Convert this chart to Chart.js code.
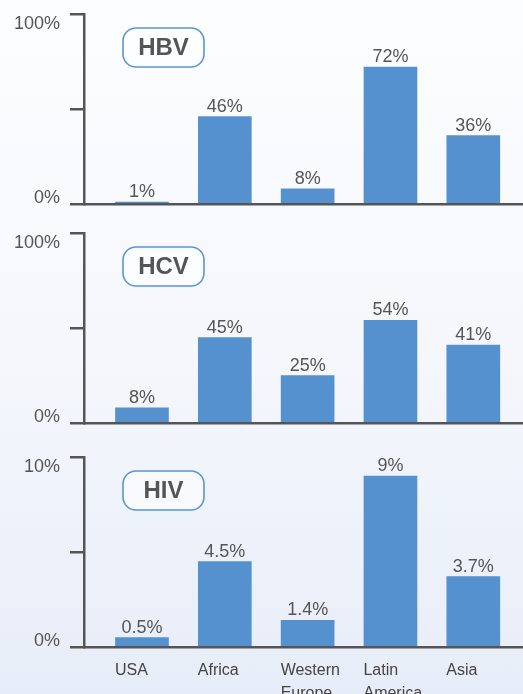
<!DOCTYPE html>
<html>
<head>
<meta charset="utf-8">
<script src="https://cdn.jsdelivr.net/npm/chart.js@4/dist/chart.umd.min.js"></script>
<style>
  html, body { margin: 0; padding: 0; }
  body {
    width: 523px; height: 694px; overflow: hidden; position: relative;
    background: linear-gradient(to bottom, #fcfdfe 0%, #f5f7fc 50%, #e7edf8 100%);
  }
  .panel { position: absolute; left: 0; width: 523px; }
</style>
</head>
<body>
<div class="panel" style="top:0;height:220px"><canvas id="hbv"></canvas></div>
<div class="panel" style="top:220px;height:220px"><canvas id="hcv"></canvas></div>
<div class="panel" style="top:440px;height:254px"><canvas id="hiv"></canvas></div>
<script>
/* data */
const regions = ["USA", "Africa", ["Western", "Europe"], ["Latin", "America"], "Asia"];
const hbvValues = [1, 46, 8, 72, 36];
const hcvValues = [8, 45, 25, 54, 41];
const hivValues = [0.5, 4.5, 1.4, 9, 3.7];
const hbvLabels = ["1%", "46%", "8%", "72%", "36%"];
const hcvLabels = ["8%", "45%", "25%", "54%", "41%"];
const hivLabels = ["0.5%", "4.5%", "1.4%", "9%", "3.7%"];

const axisColor = "#555";
const barColor = "#5591ce";
const fontFamily = "'Liberation Sans', Arial, sans-serif";

/* numbers above bars */
const valueLabels = {
    id: "valueLabels",
    afterDatasetsDraw(chart, args, opts) {
        const ctx = chart.ctx;
        const meta = chart.getDatasetMeta(0);
        ctx.save();
        ctx.font = "18px " + fontFamily;
        ctx.fillStyle = axisColor;
        ctx.textAlign = "center";
        ctx.textBaseline = "alphabetic";
        meta.data.forEach((bar, i) => {
            ctx.fillText(opts.labels[i], bar.x, bar.y - 5);
        });
        ctx.restore();
    }
};

/* rounded box with the virus name */
const nameBox = {
    id: "nameBox",
    afterDraw(chart, args, opts) {
        const ctx = chart.ctx;
        const x = chart.chartArea.left + 39, y = chart.chartArea.top + 14;
        const w = 81, h = 39, r = 13;
        ctx.save();
        ctx.beginPath();
        ctx.roundRect(x, y, w, h, r);
        ctx.fillStyle = "rgba(255,255,255,0.6)";
        ctx.fill();
        ctx.lineWidth = 1.6;
        ctx.strokeStyle = "#5b95d3";
        ctx.stroke();
        ctx.font = "bold 24px " + fontFamily;
        ctx.fillStyle = axisColor;
        ctx.textAlign = "center";
        ctx.textBaseline = "middle";
        ctx.fillText(opts.text, x + w / 2, y + h / 2 + 1);
        ctx.restore();
    }
};

function makePanel(id, values, labels, name, yMax, topPad, xHeight, showX) {
    new Chart(document.getElementById(id), {
        type: "bar",
        data: {
            datasets: [{
                data: values.map((v, i) => ({ x: i, y: v })),
                backgroundColor: barColor,
                borderWidth: 0,
                barThickness: 53
            }]
        },
        options: {
            responsive: true,
            maintainAspectRatio: false,
            animation: false,
            layout: { padding: { top: topPad, left: 0, right: 0, bottom: 0 } },
            plugins: {
                legend: { display: false },
                tooltip: { enabled: false },
                valueLabels: { labels: labels },
                nameBox: { text: name }
            },
            scales: {
                x: {
                    type: "linear",
                    offset: false,
                    min: -0.7,
                    max: 4.6,
                    afterBuildTicks: s => { s.ticks = regions.map((r, i) => ({ value: i })); },
                    afterFit: s => { s.height = xHeight; },
                    grid: { display: false, offset: false },
                    border: { display: true, color: axisColor, width: 2.5 },
                    ticks: {
                        display: showX,
                        align: "start",
                        labelOffset: -27,
                        padding: 4,
                        maxRotation: 0,
                        autoSkip: false,
                        color: "#444",
                        font: { family: fontFamily, size: 16, lineHeight: 1.45 },
                        callback: (v, i) => regions[i]
                    }
                },
                y: {
                    min: 0,
                    max: yMax,
                    afterBuildTicks: s => { s.ticks = [0, yMax / 2, yMax].map(v => ({ value: v })); },
                    afterFit: s => { s.width = 84; s.paddingTop = 0; s.paddingBottom = 0; },
                    grid: { drawOnChartArea: false, drawTicks: true, tickLength: 14, color: axisColor, lineWidth: 2.5 },
                    border: { display: true, color: axisColor, width: 2.5 },
                    ticks: {
                        padding: 10,
                        color: axisColor,
                        labelOffset: 2,
                        font: { family: fontFamily, size: 18, lineHeight: 0.85 },
                        /* end labels sit inside the axis range */
                        callback: v => (v === 0 ? ["0%", ""] : v === yMax ? ["", v + "%"] : "")
                    }
                }
            }
        },
        plugins: [valueLabels, nameBox]
    });
}

makePanel("hbv", hbvValues, hbvLabels, "HBV", 100, 14, 16, false);
makePanel("hcv", hcvValues, hcvLabels, "HCV", 100, 13, 17, false);
makePanel("hiv", hivValues, hivLabels, "HIV", 10, 17, 47, true);
</script>
</body>
</html>
